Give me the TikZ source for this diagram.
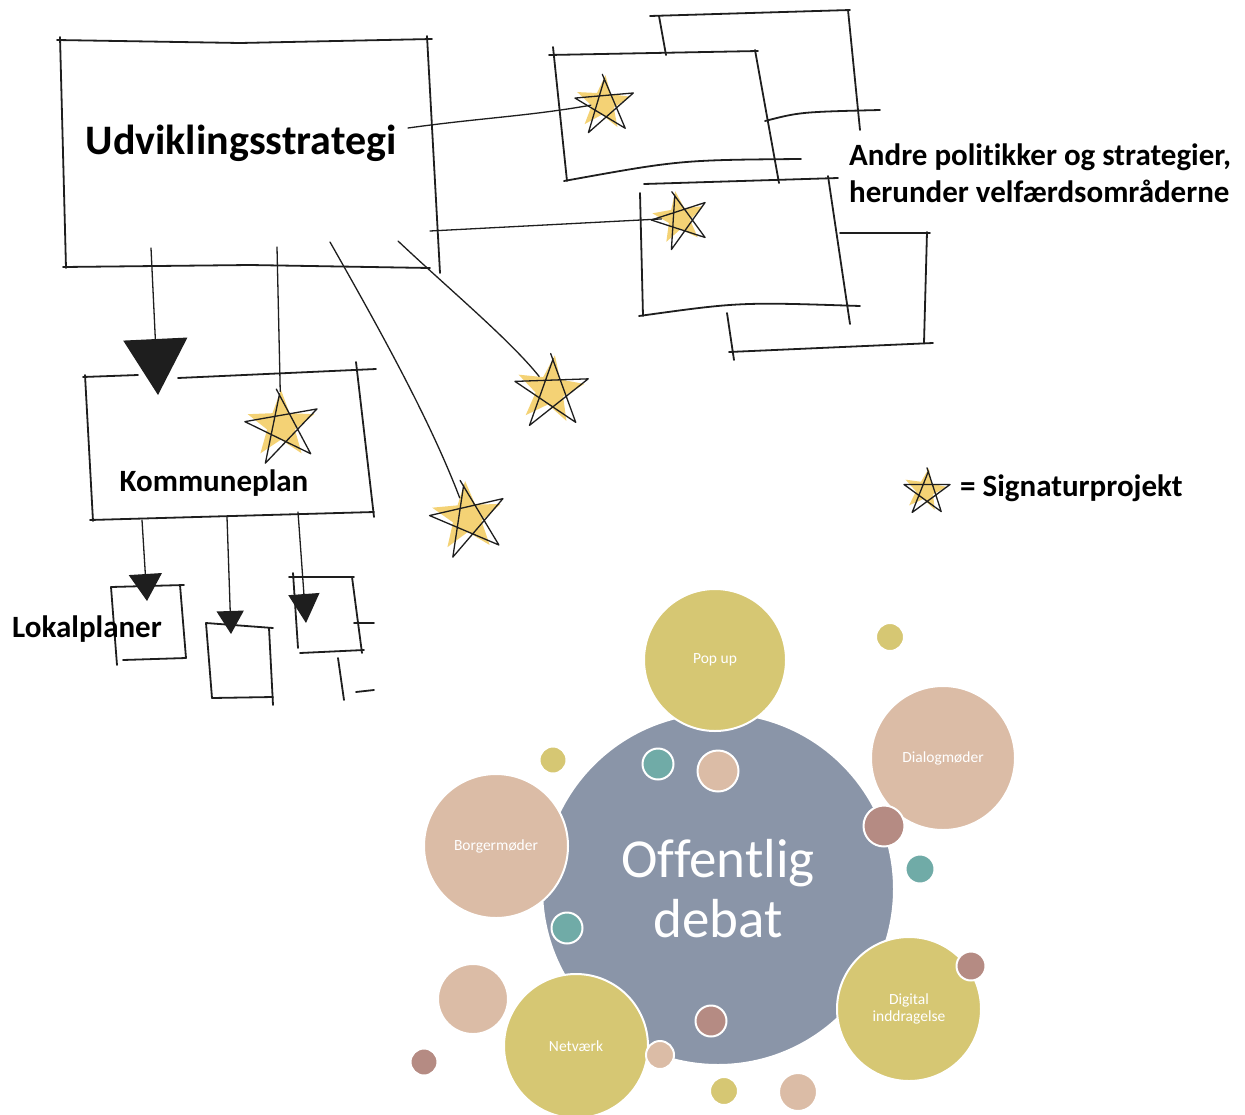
\documentclass[tikz,border=0pt]{standalone}
\usepackage{fontspec}
\setmainfont{Carlito}[Ligatures=NoCommon]
\usetikzlibrary{shapes.geometric,arrows.meta}
\definecolor{ink}{HTML}{1E1E1E}
\definecolor{stargold}{HTML}{F3CE66}
\definecolor{slate}{HTML}{8A95A8}
\definecolor{olive}{HTML}{D6C773}
\definecolor{peach}{HTML}{DBBCA6}
\definecolor{mauve}{HTML}{B58B83}
\definecolor{tealc}{HTML}{70ABA7}
\tikzset{
  hand/.style={draw=ink, line width=1.8pt, line cap=round, line join=round},
  thin hand/.style={draw=ink, line width=1.3pt, line cap=round, line join=round},
  starfill/.style={star, star points=5, star point ratio=2.4, fill=stargold, fill opacity=0.9, draw=none, inner sep=0pt},
  starline/.style={draw=ink, line width=1.3pt, line cap=round, line join=round},
  lab/.style={font=\bfseries\fontsize{31}{37}\selectfont, text=black, inner sep=0pt},
  bub/.style={circle, draw=white, line width=2pt, inner sep=0pt},
  blab/.style={text=white, font=\fontsize{15.5}{17}\selectfont, align=center},
}
\newcommand\sketchstar[5]{%
  \node[starfill, minimum size=#4*2pt, rotate=#5] (#1) at (#2,#3) {};
  \draw[starline, shift={(#2+2,#3+2)}, rotate=#5+10]
    (-90:{#4*1.1}) -- (54:{#4*1.1}) -- (198:{#4*1.1}) -- (342:{#4*1.1}) -- (126:{#4*1.15}) -- (-86:{#4*0.95});
}
\begin{document}
\begin{tikzpicture}[x=1pt,y=-1pt]
\useasboundingbox (0,0) rectangle (1245,1114);
\fill[white] (0,0) rectangle (1245,1114);

% ---------- Udviklingsstrategi box ----------
\draw[hand] (57,40) -- (240,43) -- (432,39);
\draw[hand] (60,37) -- (66,268);
\draw[hand] (427,36) -- (440,273);
\draw[hand] (63,267) -- (250,265) -- (430,268);
\node[lab, font=\bfseries\fontsize{42}{46}\selectfont] (udv) at (241,143) {Udviklingsstrategi};

% ---------- upper right boxes ----------
% back box B
\draw[hand] (650,16) -- (850,10);
\draw[hand] (659,16) -- (666,55);
\draw[hand] (848,10) -- (860,130);
\draw[hand] (765,121) .. controls (800,112) .. (880,110);
% front box A
\draw[hand] (549,55) -- (758,51);
\draw[hand] (553,47) -- (567,181);
\draw[hand] (564,181) .. controls (680,160) .. (801,159);
\draw[hand] (755,50) -- (779,183);
% back box D
\draw[hand] (840,233) -- (930,233);
\draw[hand] (927,232) -- (924,343);
\draw[hand] (729,352) -- (933,343);
\draw[hand] (727,313) -- (734,360);
% front box C
\draw[hand] (644,184) -- (838,178);
\draw[hand] (640,193) -- (643,316);
\draw[hand] (639,316) .. controls (740,302) .. (860,306);
\draw[hand] (828,176) -- (850,324);

\node[lab, align=left, anchor=west] (andre) at (849,173) {Andre politikker og strategier,\\herunder velfærdsområderne};

% ---------- stars ----------
\sketchstar{s1}{603}{103}{28}{-5}
\sketchstar{s2}{679}{218}{27}{8}
\sketchstar{sK}{281}{425}{35}{0}
\sketchstar{s3}{550}{390}{35}{-8}
\sketchstar{s4}{467}{517}{36}{3}

\coordinate (u-a) at (408,128);
\coordinate (u-b) at (430,231);
\draw[thin hand] (u-a) .. controls (480,118) and (530,116) .. (s1);
\draw[thin hand] (u-b) -- (s2);

% ---------- Kommuneplan ----------
\draw[hand] (83,377) -- (138,375);
\draw[hand] (178,378) -- (376,369);
\draw[hand] (85,375) -- (93,521);
\draw[hand] (90,520) -- (374,512);
\draw[hand] (356,362) -- (374,517);
\node[lab] (komm) at (214,483) {Kommuneplan};

\coordinate (k-in) at (151,248);
\coordinate (k-tip) at (158,395);
\draw[thin hand, -{Triangle[length=56pt,width=64pt]}] (k-in) -- (k-tip);
\coordinate (sk-in) at (277,247);
\draw[thin hand] (sk-in) -- (sK);
\coordinate (s4-in) at (330,242);
\draw[thin hand] (s4-in) .. controls (380,330) and (430,420) .. (s4);
\coordinate (s3-in) at (398,241);
\draw[thin hand] (s3-in) .. controls (450,290) and (510,340) .. (s3);

% ---------- Lokalplaner ----------
% L1
\draw[hand] (111,587) -- (184,585);
\draw[hand] (111,587) -- (117,665);
\draw[hand] (123,660) -- (186,658);
\draw[hand] (180,585) -- (186,658);
% L2
\draw[hand] (206,623) -- (273,628);
\draw[hand] (206,623) -- (212,698);
\draw[hand] (212,698) -- (273,697);
\draw[hand] (269,628) -- (273,705);
% L3
\draw[hand] (289,577) -- (354,577);
\draw[hand] (293,573) -- (298,648);
\draw[hand] (300,653) -- (364,650);
\draw[hand] (352,577) -- (362,653);
\draw[hand] (354,623) -- (374,623);
\draw[hand] (338,658) -- (344,700);
\draw[hand] (356,692) -- (374,690);

\coordinate (l1-in) at (142,520);
\coordinate (l1-tip) at (147,601);
\draw[thin hand, -{Triangle[length=27pt,width=33pt]}] (l1-in) -- (l1-tip);
\coordinate (l2-in) at (227,517);
\coordinate (l2-tip) at (231,634);
\draw[thin hand, -{Triangle[length=23pt,width=27pt]}] (l2-in) -- (l2-tip);
\coordinate (l3-in) at (298,512);
\coordinate (l3-tip) at (306,623);
\draw[thin hand, -{Triangle[length=29pt,width=31pt]}] (l3-in) -- (l3-tip);

\node[lab] (lokal) at (87,629) {Lokalplaner};

% ---------- legend ----------
\sketchstar{sL}{925}{490}{22}{-10}
\node[lab, anchor=west] (legend) at (960,488) {= Signaturprojekt};

% ---------- bubbles ----------
\node[bub, fill=slate, minimum size=352pt, text=white, font=\fontsize{55}{60}\selectfont, align=center] (deb) at (718,889) {Offentlig\\debat};
\node[bub, fill=olive, minimum size=142pt, blab] (popup) at (715,660) {Pop up};
\node[bub, fill=peach, minimum size=144pt, blab] (dialog) at (943,758) {Dialogmøder};
\node[bub, fill=peach, minimum size=144pt, blab] (borger) at (496,846) {Borgermøder};
\node[bub, fill=olive, minimum size=144pt, blab] (digital) at (909,1009) {Digital\\inddragelse};
\node[bub, fill=olive, minimum size=144pt, blab] (netv) at (576,1046) {Netværk};

\node[bub, fill=olive, minimum size=28pt] (d1) at (890,637) {};
\node[bub, fill=olive, minimum size=27pt] (d2) at (553,760) {};
\node[bub, fill=tealc, minimum size=31pt] (d3) at (658,764) {};
\node[bub, fill=peach, minimum size=41pt] (d4) at (718,771) {};
\node[bub, fill=mauve, minimum size=41pt] (d5) at (884,826) {};
\node[bub, fill=tealc, minimum size=29pt] (d6) at (920,869) {};
\node[bub, fill=tealc, minimum size=31pt] (d7) at (567,928) {};
\node[bub, fill=mauve, minimum size=29pt] (d8) at (971,966) {};
\node[bub, fill=peach, minimum size=70pt] (d9) at (473,999) {};
\node[bub, fill=mauve, minimum size=31pt] (d10) at (711,1021) {};
\node[bub, fill=peach, minimum size=28pt] (d11) at (660,1055) {};
\node[bub, fill=mauve, minimum size=27pt] (d12) at (424,1062) {};
\node[bub, fill=olive, minimum size=28pt] (d13) at (724,1091) {};
\node[bub, fill=peach, minimum size=38pt] (d14) at (798,1092) {};
\end{tikzpicture}
\end{document}
